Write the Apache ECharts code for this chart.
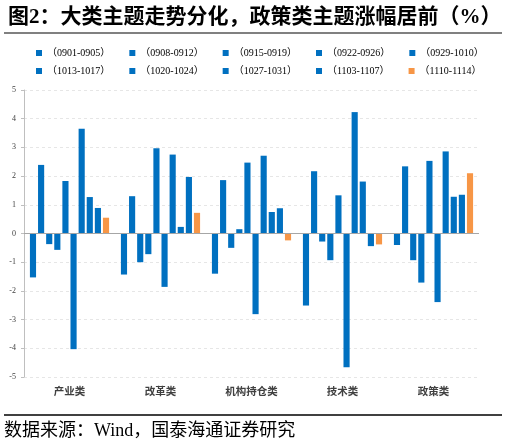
<!DOCTYPE html>
<html>
<head>
<meta charset="UTF-8">
<title>大类主题走势分化</title>
<script src="https://cdn.jsdelivr.net/npm/echarts@6/dist/echarts.min.js"></script>
<style>
	html, body { margin: 0; padding: 0; background: #fff; }
	#charts { width: 506px; height: 445px; }
</style>
<script type="text/javascript">

	var categories = ['产业类', '改革类', '机构持仓类', '技术类', '政策类'];
	var seriesNames = ['（0901-0905）', '（0908-0912）', '（0915-0919）', '（0922-0926）', '（0929-1010）',
	                   '（1013-1017）', '（1020-1024）', '（1027-1031）', '（1103-1107）', '（1110-1114）'];

	// one array per week, values for the 5 categories
	var w0901 = [-1.53, -1.43, -1.40, -2.51, -0.40];
	var w0908 = [2.39, 1.30, 1.86, 2.17, 2.34];
	var w0915 = [-0.37, -1.00, -0.50, -0.28, -0.93];
	var w0922 = [-0.57, -0.72, 0.15, -0.93, -1.71];
	var w0929 = [1.83, 2.97, 2.47, 1.33, 2.53];
	var w1013 = [-4.03, -1.86, -2.81, -4.66, -2.39];
	var w1020 = [3.65, 2.75, 2.71, 4.23, 2.86];
	var w1027 = [1.27, 0.23, 0.75, 1.81, 1.28];
	var w1103 = [0.89, 1.97, 0.88, -0.44, 1.35];
	var w1110 = [0.55, 0.72, -0.24, -0.38, 2.10];

	var yTicks = [-5, -4, -3, -2, -1, 0, 1, 2, 3, 4, 5];

	var BLUE = '#0070C0';
	var ORANGE = '#F79646';
	var SERIF = '"Liberation Serif", "Noto Sans CJK SC", serif';

	function init() {
		var chart = echarts.init(document.getElementById('charts'));
		var weeks = [w0901, w0908, w0915, w0922, w0929, w1013, w1020, w1027, w1103, w1110];

		var series = [];
		for (var i = 0; i < weeks.length; i++) {
			var s = {
				name: seriesNames[i],
				type: 'bar',
				data: weeks[i],
				barGap: '32%',
				barCategoryGap: '13%',
				itemStyle: { color: i == 9 ? ORANGE : BLUE },
				emphasis: { disabled: true }
			};
			if (i == 0) {
				// zero line
				s.markLine = {
					silent: true,
					symbol: 'none',
					label: { show: false },
					lineStyle: { color: '#a6a6a6', type: 'solid', width: 1 },
					data: [{ yAxis: 0 }]
				};
			}
			series.push(s);
		}

		var legendText = { fontFamily: SERIF, fontSize: 10, color: '#000' };

		var option = {
			animation: false,
			title: {
				text: '图2：大类主题走势分化，政策类主题涨幅居前（%）',
				left: 3,
				top: 2,
				textStyle: { fontFamily: SERIF, fontSize: 21, fontWeight: 'bold', color: '#000' }
			},
			legend: [{
				data: seriesNames.slice(0, 5),
				left: 31, top: 43,
				icon: 'rect', itemWidth: 6, itemHeight: 6, itemGap: 19,
				textStyle: legendText
			}, {
				data: seriesNames.slice(5),
				left: 31, top: 61,
				icon: 'rect', itemWidth: 6, itemHeight: 6, itemGap: 19,
				textStyle: legendText
			}],
			grid: { left: 24, right: 27, top: 90, bottom: 68 },
			xAxis: {
				type: 'category',
				data: categories,
				axisLine: { show: false },
				axisTick: { show: false },
				axisLabel: {
					margin: 10,
					fontFamily: SERIF, fontSize: 10.5, fontWeight: 'bold', color: '#404040'
				}
			},
			yAxis: {
				type: 'value',
				min: yTicks[0],
				max: yTicks[yTicks.length - 1],
				interval: 1,
				axisLine: { show: true, lineStyle: { color: '#bfbfbf' } },
				axisTick: { show: true, length: 3, lineStyle: { color: '#bfbfbf' } },
				axisLabel: { fontFamily: SERIF, fontSize: 8, color: '#404040', margin: 8 },
				splitLine: { lineStyle: { color: '#e6e6e6', type: [3, 3] } }
			},
			graphic: [{
				type: 'line',
				shape: { x1: 4, y1: 33, x2: 502, y2: 33 },
				style: { stroke: '#808080', lineWidth: 2 }
			}, {
				type: 'line',
				shape: { x1: 4, y1: 415, x2: 502, y2: 415 },
				style: { stroke: '#000', lineWidth: 1.5 }
			}, {
				type: 'text',
				left: 4,
				top: 422,
				style: { text: '数据来源：Wind，国泰海通证券研究', font: '18px ' + SERIF, fill: '#000' }
			}],
			series: series
		};

		chart.setOption(option);
	}

	window.onload = function() {
		init();
	}
</script>
</head>
<body>
	<div id="charts"></div>
</body>
</html>
